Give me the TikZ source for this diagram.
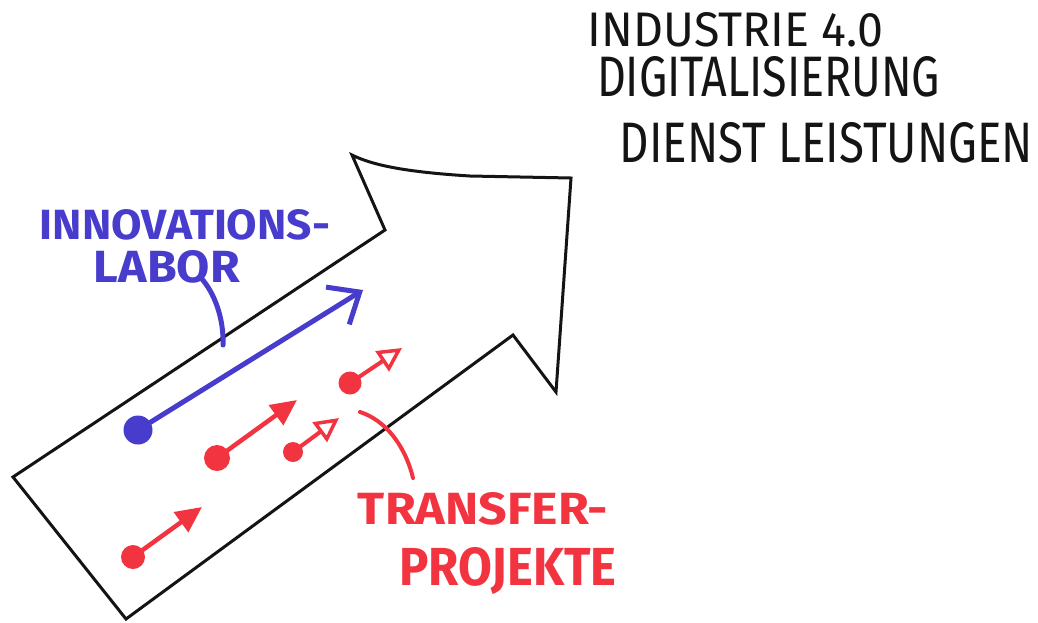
\documentclass[tikz,border=0pt]{standalone}
\usepackage{fontspec}
\setmainfont{Fira Sans}
\usetikzlibrary{arrows.meta}
\definecolor{penblue}{RGB}{72,60,205}
\definecolor{penred}{RGB}{242,52,64}
\definecolor{penblack}{RGB}{20,20,20}
\tikzset{
  outline/.style={draw=penblack, line width=3pt, line join=miter},
  bluetxt/.style={text=penblue, inner sep=0pt, font=\bfseries},
  redtxt/.style={text=penred, inner sep=0pt, font=\bfseries},
  blacktxt/.style={text=penblack, inner sep=0pt},
  bluedot/.style={circle, fill=penblue, minimum size=29pt, inner sep=0pt},
  reddot/.style={circle, fill=penred, inner sep=0pt},
  bluearrow/.style={draw=penblue, line width=5pt, line cap=round,
    -{Straight Barb[length=26pt 0 0, width=44pt 0 0, line width=5pt]}},
  redarrow/.style={draw=penred, line width=4.5pt, line cap=round,
    -{Triangle[length=26pt 0 0, width=24pt 0 0]}},
  redarrowopen/.style={draw=penred, line width=4pt, line cap=round,
    -{Triangle[open, length=24pt 0 0, width=24pt 0 0, line width=3.5pt]}},
  bluecurve/.style={draw=penblue, line width=5pt, line cap=round},
  redcurve/.style={draw=penred, line width=4pt, line cap=round},
}
\begin{document}
\begin{tikzpicture}[x=1pt, y=-1pt]
\useasboundingbox (0,0) rectangle (1038,622);

% big arrow outline
\draw[outline] (13,477) -- (126,619) -- (513,335) -- (556,392)
  -- (571,178) -- (470,176) .. controls (405,172) and (372,165) .. (352,155)
  -- (385,230) -- cycle;

% top-right texts
\node[blacktxt] (t1) at (735.5,30) {\resizebox{295pt}{34pt}{INDUSTRIE 4.0}};
\node[blacktxt] (t2) at (768.5,77) {\resizebox{343pt}{40pt}{DIGITALISIERUNG}};
\node[blacktxt] (t3) at (826.5,143) {\resizebox{413pt}{40pt}{DIENST LEISTUNGEN}};

% blue label
\node[bluetxt] (inno) at (185,225) {\resizebox{290pt}{30pt}{INNOVATIONS-}};
\node[bluetxt] (labor) at (167,267) {\resizebox{146pt}{32pt}{LABOR}};

% red label
\node[redtxt] (transfer) at (483,509) {\resizebox{250pt}{32pt}{TRANSFER-}};
\node[redtxt] (projekte) at (508,571) {\resizebox{217pt}{38pt}{PROJEKTE}};

% blue arrow
\node[bluedot] (bdot) at (138,430) {};
\coordinate (btip) at (363,290);
\draw[bluearrow] (bdot.center) -- (btip);

% blue pointer curve
\coordinate (bc1) at (201,278);
\coordinate (bc2) at (223,345);
\draw[bluecurve] (bc1) .. controls (214,292) and (224,318) .. (bc2);

% red arrows
\node[reddot, minimum size=24pt] (r1) at (133,557) {};
\coordinate (r1t) at (202,507);
\draw[redarrow] (r1.center) -- (r1t);

\node[reddot, minimum size=26pt] (r2) at (217,458) {};
\coordinate (r2t) at (297,400);
\draw[redarrow] (r2.center) -- (r2t);

\node[reddot, minimum size=20pt] (r3) at (293,452) {};
\coordinate (r3t) at (339,418);
\draw[redarrowopen] (r3.center) -- (r3t);

\node[reddot, minimum size=23pt] (r4) at (350,383) {};
\coordinate (r4t) at (402,348);
\draw[redarrowopen] (r4.center) -- (r4t);

% red pointer curve
\coordinate (rc1) at (360,412);
\coordinate (rc2) at (413,478);
\draw[redcurve] (rc1) .. controls (385,420) and (405,445) .. (rc2);
\end{tikzpicture}
\end{document}
